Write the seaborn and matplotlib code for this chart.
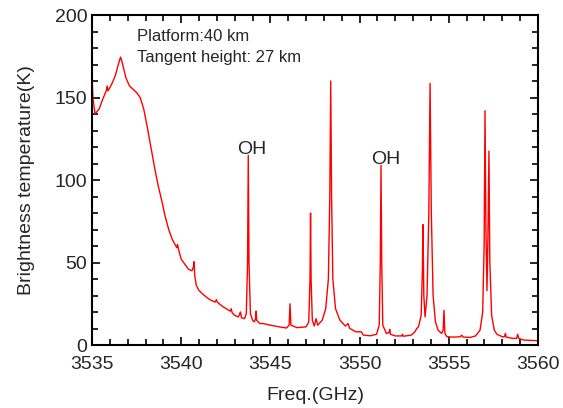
import numpy as np
import pandas as pd
import seaborn as sns
import matplotlib.pyplot as plt
from matplotlib.ticker import MultipleLocator

# spectrum (GHz, K)
freq = [3535.00, 3535.05, 3535.17, 3535.4, 3535.6, 3535.8, 3535.85, 3535.9, 3536.1, 3536.3,
        3536.5, 3536.6, 3536.7, 3536.9, 3537.1, 3537.3, 3537.5, 3537.7, 3537.9, 3538.1,
        3538.3, 3538.5, 3538.7, 3538.9, 3539.1, 3539.3, 3539.5, 3539.75, 3539.8, 3539.85,
        3540.0, 3540.2, 3540.4, 3540.6, 3540.68, 3540.72, 3540.76, 3540.85, 3541.0, 3541.3,
        3541.6, 3541.9, 3541.97, 3542.02, 3542.3, 3542.6, 3542.75, 3542.8, 3542.86, 3543.0,
        3543.2, 3543.27, 3543.32, 3543.38, 3543.55, 3543.65, 3543.72, 3543.76, 3543.8, 3543.88,
        3544.0, 3544.1, 3544.17, 3544.2, 3544.23, 3544.4, 3544.6, 3545.0, 3545.5, 3545.9,
        3546.05, 3546.1, 3546.15, 3546.5, 3547.0, 3547.15, 3547.22, 3547.25, 3547.28, 3547.35,
        3547.46, 3547.56, 3547.65, 3547.9, 3548.1, 3548.25, 3548.33, 3548.38, 3548.43, 3548.5,
        3548.65, 3548.9, 3549.2, 3549.35, 3549.45, 3549.8, 3550.1, 3550.2, 3550.6, 3550.95,
        3551.1, 3551.16, 3551.2, 3551.24, 3551.3, 3551.5, 3551.65, 3551.69, 3551.73, 3552.0,
        3552.36, 3552.4, 3552.45, 3552.9, 3553.1, 3553.2, 3553.3, 3553.45, 3553.52, 3553.55,
        3553.6, 3553.67, 3553.78, 3553.88, 3553.95, 3554.02, 3554.12, 3554.25, 3554.4, 3554.6,
        3554.68, 3554.73, 3554.78, 3554.9, 3555.3, 3555.65, 3555.72, 3555.8, 3556.2, 3556.5,
        3556.75, 3556.9, 3556.98, 3557.03, 3557.08, 3557.14, 3557.2, 3557.25, 3557.3, 3557.4,
        3557.55, 3557.7, 3558.0, 3558.12, 3558.17, 3558.22, 3558.6, 3558.8, 3558.86, 3558.92,
        3559.2, 3559.6, 3560.0]
tb = [165, 150, 140, 143, 149, 154, 157, 154, 158, 163,
      171, 174.5, 171, 162, 157, 155, 153, 150, 143, 132,
      120, 108, 97, 88, 78, 70, 64, 59, 61, 58,
      52, 49, 46, 45, 47, 50.5, 42, 36, 33, 30,
      27.5, 26, 27.5, 26, 23.5, 21.5, 20.5, 22, 19.5, 18,
      17, 18.5, 20, 16.5, 16, 19, 50, 115, 50, 19,
      15, 14, 16, 20.5, 15, 13, 13, 12, 11, 10.3,
      12, 25, 12, 10.5, 11, 14, 40, 80, 40, 15,
      11.5, 16, 12, 15, 22, 40, 90, 160, 90, 40,
      22, 15, 11.5, 13, 10, 8, 8, 6, 5.6, 6.5,
      12, 50, 109, 50, 12, 7, 7.5, 9.5, 6.5, 5.5,
      5.5, 6.5, 5.3, 6, 8, 10, 11, 18, 45, 73,
      30, 17, 30, 80, 158.6, 80, 30, 14, 9, 7,
      9, 21, 7, 5, 4.8, 5, 6, 4.8, 4.6, 5.5,
      9, 20, 60, 142, 70, 33, 70, 117.5, 50, 18,
      9, 6.5, 5, 5, 7, 4.8, 4, 4, 6.5, 4,
      3, 2.8, 2.6]

df = pd.DataFrame({"freq": freq, "tb": tb})

sns.set_theme(style="ticks")
plt.rcParams["font.family"] = ["Liberation Sans", "DejaVu Sans"]

fig = plt.figure(figsize=(5.63, 4.08), dpi=100)
ax = fig.add_axes([0.1634, 0.1544, 0.7922, 0.8088])
sns.lineplot(data=df, x="freq", y="tb", color="red", linewidth=1.0, estimator=None, sort=False, ax=ax)

ax.set_xlim(3535, 3560)
ax.set_ylim(0, 200)
ax.xaxis.set_major_locator(MultipleLocator(5))
ax.xaxis.set_minor_locator(MultipleLocator(1))
ax.yaxis.set_major_locator(MultipleLocator(50))
ax.yaxis.set_minor_locator(MultipleLocator(10))
ax.tick_params(which="both", direction="in", top=True, right=True, labelsize=14, color="black", width=1.2)
ax.tick_params(which="major", length=6)
ax.tick_params(which="minor", length=4)
ax.tick_params(axis="x", pad=8)
for s in ax.spines.values():
    s.set_linewidth(1.5)
    s.set_color("black")

ax.set_xlabel("Freq.(GHz)", fontsize=14, labelpad=10)
ax.set_ylabel("Brightness temperature(K)", fontsize=14, labelpad=14)

ax.text(3537.5, 187, "Platform:40 km", fontsize=12, va="center")
ax.text(3537.5, 174, "Tangent height: 27 km", fontsize=12, va="center")
ax.text(3543.95, 115.5, "OH", fontsize=14, ha="center")
ax.text(3551.45, 109.5, "OH", fontsize=14, ha="center")

fig.savefig("out.png", dpi=100)
